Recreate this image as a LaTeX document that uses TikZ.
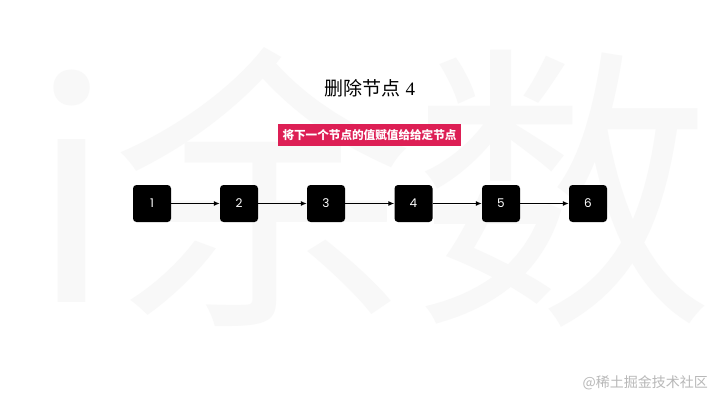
\documentclass[tikz,border=0pt]{standalone}
\usepackage{fontspec}
\setmainfont{Liberation Serif}
\newfontfamily\cjk{Noto Sans CJK SC}
\newfontfamily\numfont{Poppins}
\usetikzlibrary{arrows.meta}
\definecolor{tagred}{HTML}{DD1F55}
\definecolor{wm}{HTML}{F8F8F8}
\definecolor{wmgray}{HTML}{B8B8B8}
\tikzset{
  lnode/.style={rectangle, rounded corners=3.5pt, fill=black, minimum width=38pt, minimum height=37pt, inner sep=0pt, text=white, font=\numfont\fontsize{12}{12}\selectfont},
  link/.style={draw=black, line width=1.6pt, -{Latex[length=6pt,width=5pt]}}
}
\begin{document}
\begin{tikzpicture}[x=1pt,y=1pt]
\useasboundingbox (0,0) rectangle (720,405);
\fill[white] (0,0) rectangle (720,405);
% background watermark
\node[text=wm, font=\cjk\fontsize{300}{300}\selectfont, inner sep=0pt] (bigwm) at (372,218) {i余数};
% title
\node[font=\fontsize{19}{19}\selectfont, inner sep=0pt] (title) at (370,317) {{\cjk 删除节点} 4};
% tag
\node[fill=tagred, text=white, font=\cjk\bfseries\fontsize{11.6}{11.6}\selectfont, minimum width=183pt, minimum height=22pt, inner sep=0pt] (tag) at (369.5,270) {将下一个节点的值赋值给给定节点};
% nodes
\node[lnode] (n1) at (152,201.5) {1};
\node[lnode] (n2) at (239,201.5) {2};
\node[lnode] (n3) at (326,201.5) {3};
\node[lnode] (n4) at (413.5,201.5) {4};
\node[lnode] (n5) at (501,201.5) {5};
\node[lnode] (n6) at (588,201.5) {6};
\draw[link] (n1) -- (n2);
\draw[link] (n2) -- (n3);
\draw[link] (n3) -- (n4);
\draw[link] (n4) -- (n5);
\draw[link] (n5) -- (n6);
% corner watermark
\node[text=wmgray, font=\cjk\fontsize{14}{14}\selectfont, anchor=east, inner sep=0pt] (cwm) at (708,22) {@稀土掘金技术社区};
\end{tikzpicture}
\end{document}
